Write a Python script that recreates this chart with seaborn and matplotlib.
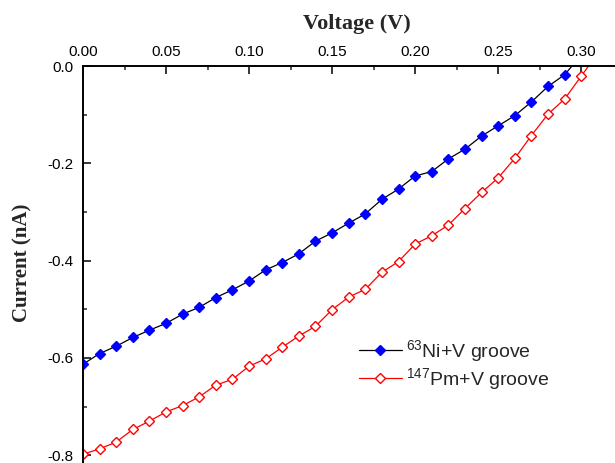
import numpy as np
import pandas as pd
import matplotlib
matplotlib.use("Agg")
import matplotlib.pyplot as plt
from matplotlib.ticker import MultipleLocator, FormatStrFormatter
import seaborn as sns

# ======================
# DATA
# ======================
voltage_ni = [0.00, 0.01, 0.02, 0.03, 0.04, 0.05, 0.06, 0.07, 0.08, 0.09,
              0.10, 0.11, 0.12, 0.13, 0.14, 0.15, 0.16, 0.17, 0.18, 0.19,
              0.20, 0.21, 0.22, 0.23, 0.24, 0.25, 0.26, 0.27, 0.28, 0.29, 0.30]
current_ni = [-0.613, -0.591, -0.576, -0.558, -0.543, -0.529, -0.510, -0.496, -0.476, -0.460,
              -0.442, -0.419, -0.404, -0.386, -0.360, -0.343, -0.323, -0.304, -0.274, -0.253,
              -0.226, -0.217, -0.191, -0.171, -0.144, -0.123, -0.102, -0.074, -0.042, -0.018, 0.022]

voltage_pm = [0.00, 0.01, 0.02, 0.03, 0.04, 0.05, 0.06, 0.07, 0.08, 0.09,
              0.10, 0.11, 0.12, 0.13, 0.14, 0.15, 0.16, 0.17, 0.18, 0.19,
              0.20, 0.21, 0.22, 0.23, 0.24, 0.25, 0.26, 0.27, 0.28, 0.29, 0.30, 0.31]
current_pm = [-0.798, -0.787, -0.773, -0.747, -0.730, -0.711, -0.698, -0.680, -0.656, -0.644,
              -0.617, -0.602, -0.578, -0.555, -0.535, -0.501, -0.475, -0.459, -0.424, -0.402,
              -0.366, -0.349, -0.327, -0.293, -0.260, -0.230, -0.190, -0.143, -0.099, -0.068,
              -0.021, 0.026]

label_ni = r"$\mathregular{^{63}}$Ni+V groove"
label_pm = r"$\mathregular{^{147}}$Pm+V groove"

# ======================
# STYLE
# ======================
sns.set_theme(style="white")
plt.rcParams["font.family"] = ["Liberation Sans", "DejaVu Sans"]
plt.rcParams["mathtext.fontset"] = "custom"
plt.rcParams["mathtext.rm"] = "Liberation Sans"
plt.rcParams["axes.unicode_minus"] = False

W, H = 615, 463
fig = plt.figure(figsize=(W / 100, H / 100), dpi=100)
# axes box in pixels: left 83, right 631 (beyond the figure), top 66, bottom 463
ax = fig.add_axes([83 / W, 0, (631 - 83) / W, (463 - 66) / H])

sns.lineplot(x=voltage_ni, y=current_ni, ax=ax, sort=False, color="black",
             linewidth=0.9, marker="D", markersize=4.8, markerfacecolor="#0000FF",
             markeredgecolor="#0000FF", markeredgewidth=1, label=label_ni)
sns.lineplot(x=voltage_pm, y=current_pm, ax=ax, sort=False, color="#FF0000",
             linewidth=0.9, marker="D", markersize=4.8, markerfacecolor="white",
             markeredgecolor="#FF0000", markeredgewidth=1, label=label_pm)

ax.set_xlim(0, 0.33)
ax.set_ylim(-(463 - 66) / 486.5, 0)

ax.xaxis.tick_top()
ax.xaxis.set_label_position("top")
ax.xaxis.set_major_locator(MultipleLocator(0.05))
ax.xaxis.set_minor_locator(MultipleLocator(0.025))
ax.yaxis.set_major_locator(MultipleLocator(0.2))
ax.yaxis.set_minor_locator(MultipleLocator(0.1))
ax.xaxis.set_major_formatter(FormatStrFormatter("%.2f"))
ax.yaxis.set_major_formatter(FormatStrFormatter("%.1f"))

ax.tick_params(axis="x", which="major", direction="in", length=5.5, width=1.1,
               labelsize=11, pad=5, colors="black", top=True, bottom=False)
ax.tick_params(axis="x", which="minor", direction="in", length=3.2, width=1.1,
               top=True, bottom=False)
ax.tick_params(axis="y", which="major", direction="in", length=5.5, width=1.1,
               labelsize=11, pad=7, colors="black", left=True, right=False)
ax.tick_params(axis="y", which="minor", direction="in", length=3.2, width=1.1,
               left=True, right=False)

for side in ["top", "left"]:
    ax.spines[side].set_linewidth(1.4)
    ax.spines[side].set_color("black")
ax.spines["right"].set_visible(False)
ax.spines["bottom"].set_visible(False)

ax.set_xlabel("Voltage (V)", family=["Liberation Serif"], fontweight="bold", fontsize=16)
ax.set_ylabel("Current (nA)", family=["Liberation Serif"], fontweight="bold", fontsize=15)
ax.xaxis.set_label_coords(0.5, (463 - 29) / 397)
ax.yaxis.set_label_coords((32 - 83) / 548, (463 - 263) / 397)

ax.legend(loc="upper left", bbox_to_anchor=(359 / W, 1 - 338 / H),
          bbox_transform=fig.transFigure, frameon=False, fontsize=14,
          handlelength=2.2, handletextpad=0.2, labelspacing=0.12,
          borderpad=0, borderaxespad=0)

fig.savefig("out.png", dpi=100)
